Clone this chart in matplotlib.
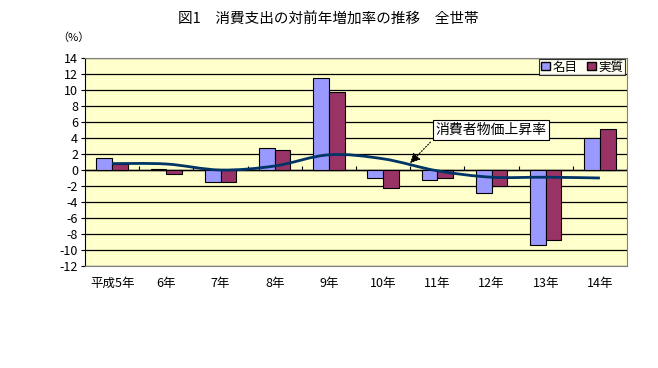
import matplotlib
matplotlib.use("Agg")
import matplotlib.pyplot as plt
from matplotlib.path import Path
from matplotlib.patches import PathPatch, Patch
import numpy as np

plt.rcParams['font.family'] = ['Noto Sans CJK JP', 'DejaVu Sans']

categories = ["平成5年", "6年", "7年", "8年", "9年", "10年", "11年", "12年", "13年", "14年"]
nominal = [1.5, 0.1, -1.5, 2.8, 11.5, -1.0, -1.2, -2.9, -9.4, 4.0]
real = [0.8, -0.5, -1.5, 2.5, 9.7, -2.2, -1.0, -2.0, -8.8, 5.1]
cpi = [0.8, 0.75, 0.0, 0.5, 1.9, 1.4, -0.1, -0.9, -0.9, -1.0]
yticks = list(range(-12, 15, 2))

fig = plt.figure(figsize=(6.58, 3.68), dpi=100)
ax = fig.add_axes([85/658, 1-266/368, 542/658, 208/368])
ax.set_facecolor('#FFFFCC')

x = np.arange(len(categories))
w = 0.29
ax.bar(x - w/2, nominal, w, color='#9999FF', edgecolor='black', linewidth=0.8, zorder=3)
ax.bar(x + w/2, real, w, color='#993366', edgecolor='black', linewidth=0.8, zorder=3)

# smooth line (Excel-like bezier through the points)
pts = np.column_stack([x, cpi]).astype(float)
n = len(pts)
verts = [pts[0]]
codes = [Path.MOVETO]
for i in range(n - 1):
    p0 = pts[i - 1] if i > 0 else pts[i]
    p1 = pts[i]
    p2 = pts[i + 1]
    p3 = pts[i + 2] if i + 2 < n else pts[i + 1]
    c1 = p1 + (p2 - p0) / 6
    c2 = p2 - (p3 - p1) / 6
    verts += [c1, c2, p2]
    codes += [Path.CURVE4] * 3
ax.add_patch(PathPatch(Path(verts, codes), facecolor='none', edgecolor='#003366', linewidth=2, zorder=4))

ax.set_xlim(-0.5, len(categories) - 0.5)
ax.set_ylim(-12, 14)
ax.set_yticks(yticks)
ax.set_yticklabels([str(v) for v in yticks], fontsize=9)
ax.yaxis.grid(True, color='black', linewidth=0.9, zorder=1)
ax.set_axisbelow(True)
ax.tick_params(axis='y', length=3, width=0.8, pad=2)
ax.set_xticks(x)
ax.set_xticklabels(categories, fontsize=9)
ax.tick_params(axis='x', length=0, pad=8)
for s in ['top', 'right', 'bottom']:
    ax.spines[s].set_color('#808080')
ax.spines['left'].set_color('black')
ax.axhline(0, color='black', linewidth=1.0, zorder=2)
ax.vlines(np.arange(0.5, len(categories) - 0.5 + 1, 1.0), 0, 0.45, color='black', linewidth=0.8, zorder=2)

# legend
handles = [Patch(facecolor='#9999FF', edgecolor='black', label='名目'),
           Patch(facecolor='#993366', edgecolor='black', label='実質')]
leg = ax.legend(handles=handles, loc='upper right', bbox_to_anchor=(0.997, 0.997), ncol=2,
                fontsize=9, frameon=True, fancybox=False, edgecolor='black',
                handlelength=0.7, handleheight=0.7, handletextpad=0.2, columnspacing=0.8,
                borderpad=0.15, borderaxespad=0.0)
leg.get_frame().set_linewidth(0.8)

# annotation
ax.annotate('消費者物価上昇率', xy=(5.46, 0.6), xytext=(6.99, 5.0), fontsize=10,
            ha='center', va='center', zorder=6,
            bbox=dict(boxstyle='square,pad=0.2', facecolor='white', edgecolor='black', linewidth=0.8),
            arrowprops=dict(arrowstyle='-|>,head_length=0.6,head_width=0.3', color='black',
                            linestyle=':', linewidth=0.8, relpos=(0.0, 0.0)))

fig.text(328/658, 1-20/368, '図1\u3000消費支出の対前年増加率の推移\u3000全世帯', ha='center', va='center', fontsize=10.5)
fig.text(73/658, 1-38/368, '（%）', ha='center', va='center', fontsize=8)

fig.savefig('out.png', dpi=100)
